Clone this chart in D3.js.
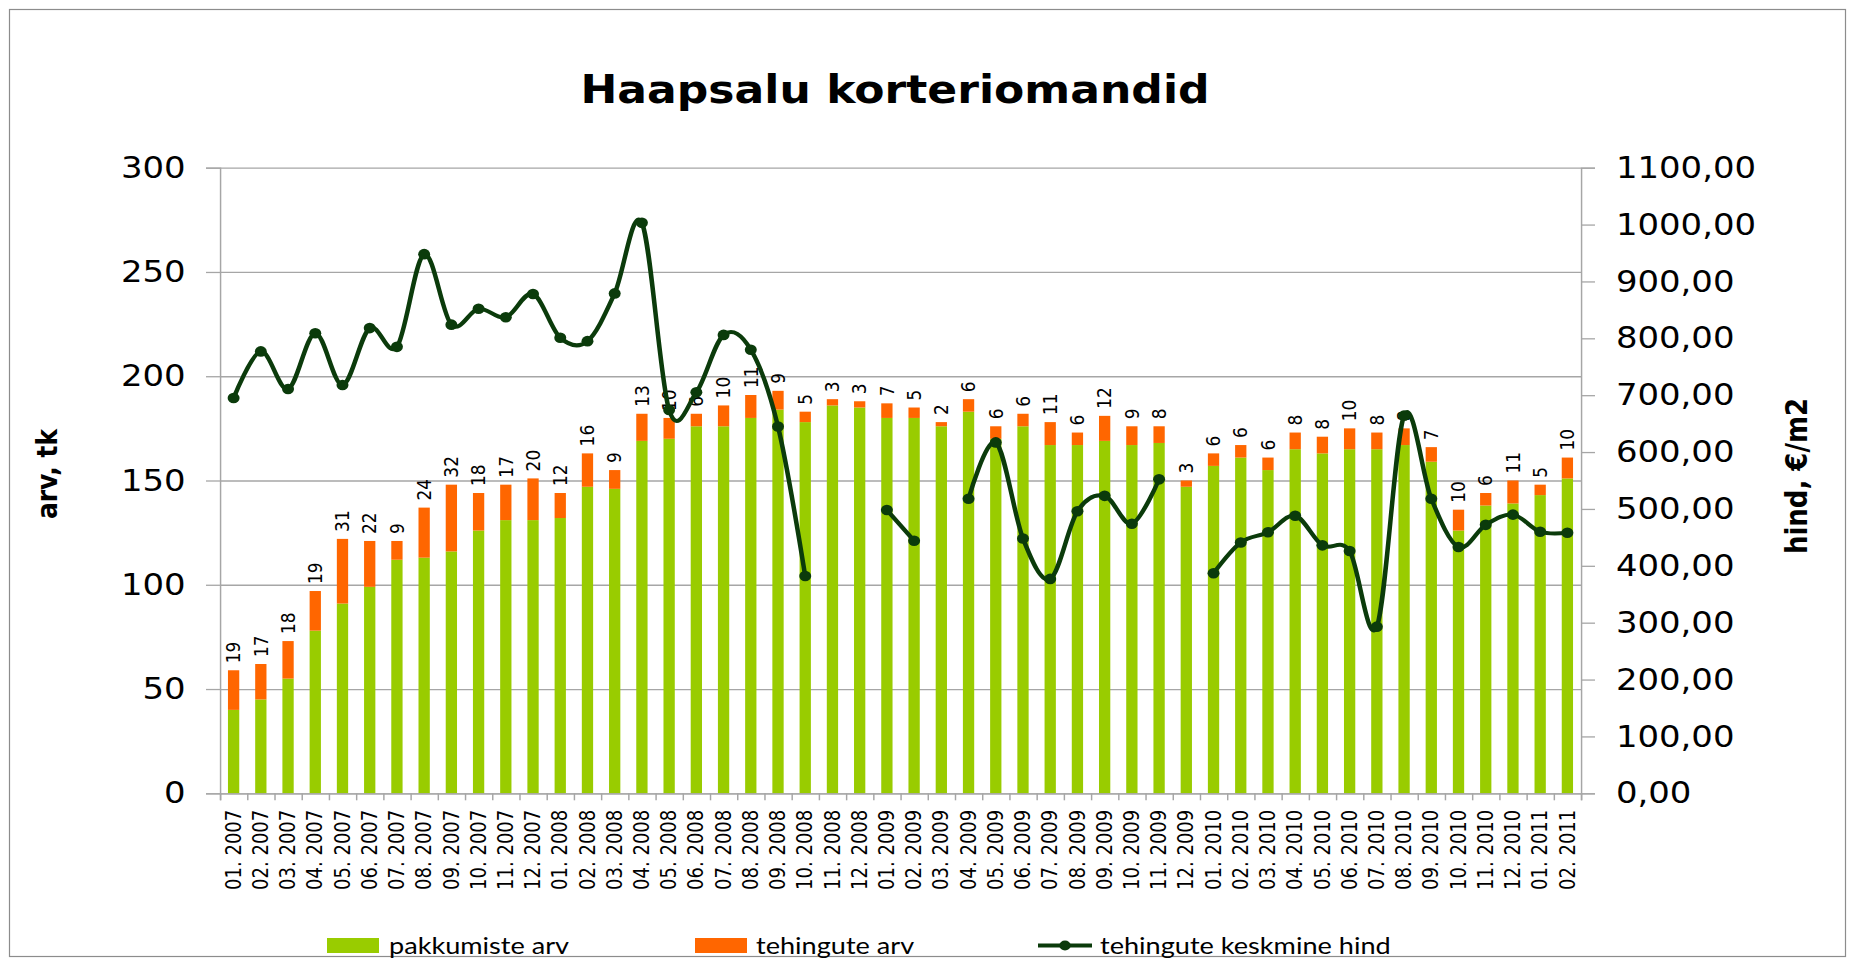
<!DOCTYPE html>
<html><head><meta charset="utf-8">
<script src="https://cdn.jsdelivr.net/npm/d3@7"></script>
<style>body{margin:0;background:#fff;} svg{display:block;}</style>
</head><body>
<svg id="chart" width="1850" height="962"></svg>
<script>
// ---------- data ----------
const months = ["01. 2007","02. 2007","03. 2007","04. 2007","05. 2007","06. 2007","07. 2007","08. 2007","09. 2007","10. 2007","11. 2007","12. 2007",
"01. 2008","02. 2008","03. 2008","04. 2008","05. 2008","06. 2008","07. 2008","08. 2008","09. 2008","10. 2008","11. 2008","12. 2008",
"01. 2009","02. 2009","03. 2009","04. 2009","05. 2009","06. 2009","07. 2009","08. 2009","09. 2009","10. 2009","11. 2009","12. 2009",
"01. 2010","02. 2010","03. 2010","04. 2010","05. 2010","06. 2010","07. 2010","08. 2010","09. 2010","10. 2010","11. 2010","12. 2010",
"01. 2011","02. 2011"];
const offers = [40,45,55,78,91,99,112,113,116,126,131,131,
132,147,146,169,170,176,176,180,184,178,186,185,
180,180,176,183,170,176,167,167,169,167,168,147,
157,161,155,165,163,165,165,167,159,126,138,139,
143,151];
const deals = [19,17,18,19,31,22,9,24,32,18,17,20,
12,16,9,13,10,6,10,11,9,5,3,3,
7,5,2,6,6,6,11,6,12,9,8,3,
6,6,6,8,8,10,8,8,7,10,6,11,
5,10];
const price = [695,777,711,809,718,818,785,948,824,852,837,878,
801,795,879,1003,674,705,806,780,645,382,null,null,
498,444,null,518,617,448,377,496,523,474,552,null,
387,441,459,488,436,426,293,664,518,433,472,490,
460,458];
const leftTicks = [0,50,100,150,200,250,300];
const rightTicks = [0,100,200,300,400,500,600,700,800,900,1000,1100];
const title = "Haapsalu korteriomandid";
const leftTitle = "arv, tk";
const rightTitle = "hind, €/m2";
const legendLabels = ["pakkumiste arv","tehingute arv","tehingute keskmine hind"];

// ---------- layout ----------
const SX = 1.13;                 // horizontal stretch of the whole drawing
const X = v => v / SX;           // screen px -> inner px
const GREEN = "#99cc00", ORANGE = "#ff6600", LINE = "#0b3b0b", GRID = "#a6a6a6";
const L = 220, R = 1581, T = 167.7, B = 793.3;

const svg = d3.select("#chart");
svg.append("rect").attr("x",9.5).attr("y",9.5).attr("width",1836).attr("height",947)
  .attr("fill","#fff").attr("stroke","#8c8c8c").attr("stroke-width",1.2);
const g = svg.append("g").attr("transform", `scale(${SX},1)`);

const x = d3.scaleBand().domain(months).range([X(L), X(R)]).paddingInner(0.585).paddingOuter(0.2925);
const cx = m => x(m) + x.bandwidth()/2;
const yL = d3.scaleLinear().domain([0,300]).range([B, T]);
const yR = d3.scaleLinear().domain([0,1100]).range([B, T]);

// gridlines
const grid = g.append("g").attr("transform", `translate(${X(L)},0)`)
  .call(d3.axisLeft(yL).tickValues(leftTicks).tickSize(-(X(R)-X(L))).tickFormat(""));
grid.select(".domain").remove();
grid.selectAll("line").attr("stroke", GRID).attr("stroke-width",1.3);

// bars
const rows = months.map((m,i) => ({m, offers: offers[i], deals: deals[i]}));
const stack = d3.stack().keys(["offers","deals"])(rows);
const colors = {offers: GREEN, deals: ORANGE};
g.append("g").selectAll("g").data(stack).join("g").attr("fill", s => colors[s.key])
  .selectAll("rect").data(s => s).join("rect")
  .attr("x", d => x(d.data.m)).attr("width", x.bandwidth())
  .attr("y", d => yL(d[1])).attr("height", d => yL(d[0]) - yL(d[1]));

// bar labels (deals)
g.append("g").selectAll("text").data(rows).join("text")
  .attr("transform", d => `translate(${cx(d.m)},${yL(d.offers + d.deals) - 7}) rotate(-90)`)
  .attr("dy","0.35em").attr("text-anchor","start")
  .style("font-family","DejaVu Sans").style("font-size","17px").attr("fill","#000")
  .text(d => d.deals);

// left axis
const ax = g.append("g").attr("transform", `translate(${X(L)},0)`)
  .call(d3.axisLeft(yL).tickValues(leftTicks).tickSize(X(14)).tickPadding(18).tickFormat(d3.format("d")));
// right axis
const fmt = d => d.toFixed(2).replace(".", ",");
const ar = g.append("g").attr("transform", `translate(${X(R)},0)`)
  .call(d3.axisRight(yR).tickValues(rightTicks).tickSize(X(14)).tickPadding(18.5).tickFormat(fmt));
[ax, ar].forEach(a => {
  a.select(".domain").attr("stroke", GRID).attr("stroke-width",1.3);
  a.selectAll(".tick line").attr("stroke", GRID).attr("stroke-width",1.3);
  a.selectAll("text").style("font-family","DejaVu Sans").style("font-size","30px").attr("fill","#000");
});

// bottom axis: boundary ticks
const bnd = d3.scaleLinear().domain([0, months.length]).range([X(L), X(R)]);
const ab = g.append("g").attr("transform", `translate(0,${B})`)
  .call(d3.axisBottom(bnd).tickValues(d3.range(months.length + 1)).tickSize(7).tickFormat(""));
ab.select(".domain").attr("stroke", GRID).attr("stroke-width",1.3);
ab.selectAll("line").attr("stroke", GRID).attr("stroke-width",1.3);
// bottom axis: labels
const abl = g.append("g").attr("transform", `translate(0,${B})`)
  .call(d3.axisBottom(x).tickSize(0));
abl.select(".domain").remove();
abl.selectAll("text").attr("transform","rotate(-90)").attr("x",-16.5).attr("y",0).attr("dy","0.35em")
  .style("text-anchor","end").style("font-family","DejaVu Sans").style("font-size","18px").attr("fill","#000");

// price line
const pts = months.map((m,i) => ({m, v: price[i]}));
g.append("path").datum(pts)
  .attr("fill","none").attr("stroke", LINE).attr("stroke-width",4).attr("stroke-linejoin","round")
  .attr("d", d3.line().defined(d => d.v != null).x(d => cx(d.m)).y(d => yR(d.v)).curve(d3.curveCatmullRom.alpha(0)));
g.append("g").selectAll("circle").data(pts.filter(d => d.v != null)).join("circle")
  .attr("cx", d => cx(d.m)).attr("cy", d => yR(d.v)).attr("r",5.3).attr("fill", LINE);

// titles
g.append("text").attr("x", X(895)).attr("y", 103).attr("text-anchor","middle")
  .style("font-family","DejaVu Sans").style("font-weight","bold").style("font-size","39px").text(title);
g.append("text").attr("transform", `translate(${X(47)},474) rotate(-90)`).attr("text-anchor","middle").attr("dy","0.35em")
  .style("font-family","DejaVu Sans").style("font-weight","bold").style("font-size","25px").text(leftTitle);
g.append("text").attr("transform", `translate(${X(1797)},476) rotate(-90)`).attr("text-anchor","middle").attr("dy","0.35em")
  .style("font-family","DejaVu Sans").style("font-weight","bold").style("font-size","26px").text(rightTitle);

// legend
const lg = g.append("g").style("font-family","Lato").style("font-size","24px");
lg.append("rect").attr("x",X(327)).attr("y",938).attr("width",X(52)).attr("height",15).attr("fill",GREEN);
lg.append("text").attr("x",X(389)).attr("y",946).attr("dy","0.35em").text(legendLabels[0]);
lg.append("rect").attr("x",X(695)).attr("y",938).attr("width",X(52)).attr("height",15).attr("fill",ORANGE);
lg.append("text").attr("x",X(756)).attr("y",946).attr("dy","0.35em").text(legendLabels[1]);
lg.append("line").attr("x1",X(1038)).attr("x2",X(1092)).attr("y1",945.5).attr("y2",945.5).attr("stroke",LINE).attr("stroke-width",4);
lg.append("circle").attr("cx",X(1065)).attr("cy",945.5).attr("r",5).attr("fill",LINE);
lg.append("text").attr("x",X(1100)).attr("y",946).attr("dy","0.35em").text(legendLabels[2]);
</script>
</body></html>
